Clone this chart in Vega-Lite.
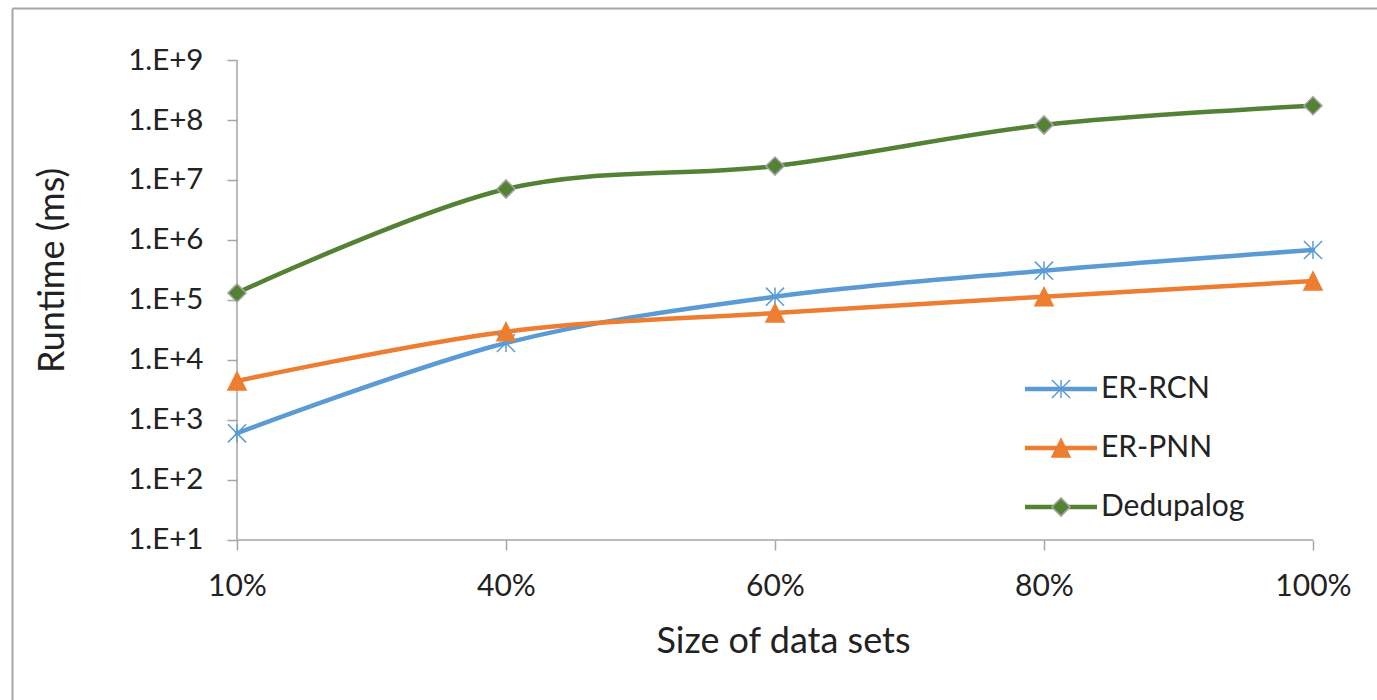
{
  "$schema": "https://vega.github.io/schema/vega-lite/v6.json",
  "width": 1365,
  "height": 692,
  "autosize": {"type": "none"},
  "padding": {"left": 12, "top": 8, "right": 0, "bottom": 0},
  "background": "#ffffff",
  "config": {
    "font": "Lato",
    "view": {"stroke": null},
    "axis": {"grid": false, "labelFont": "Lato", "titleFont": "Lato"},
    "legend": {"labelFont": "Lato"}
  },
  "data": {
    "values": [
      {"pct": "10%", "series": "ER-RCN", "ms": 600},
      {"pct": "40%", "series": "ER-RCN", "ms": 19200},
      {"pct": "60%", "series": "ER-RCN", "ms": 113500},
      {"pct": "80%", "series": "ER-RCN", "ms": 308000},
      {"pct": "100%", "series": "ER-RCN", "ms": 681000},
      {"pct": "10%", "series": "ER-PNN", "ms": 4470},
      {"pct": "40%", "series": "ER-PNN", "ms": 29600},
      {"pct": "60%", "series": "ER-PNN", "ms": 60700},
      {"pct": "80%", "series": "ER-PNN", "ms": 113500},
      {"pct": "100%", "series": "ER-PNN", "ms": 207000},
      {"pct": "10%", "series": "Dedupalog", "ms": 131000},
      {"pct": "40%", "series": "Dedupalog", "ms": 7080000},
      {"pct": "60%", "series": "Dedupalog", "ms": 17100000},
      {"pct": "80%", "series": "Dedupalog", "ms": 82500000},
      {"pct": "100%", "series": "Dedupalog", "ms": 173000000}
    ]
  },
  "layer": [
    {
      "data": {"values": [{}]},
      "mark": {"type": "rule", "color": "#a6a6a6", "strokeWidth": 1.5},
      "encoding": {
        "x": {
          "datum": "10%", "type": "nominal",
          "scale": {"type": "point", "domain": ["10%", "40%", "60%", "80%", "100%"], "padding": 0.5372, "align": 0.7785},
          "axis": {"orient": "top", "offset": 0, "domain": true, "domainColor": "#a6a6a6", "domainWidth": 2, "ticks": false, "labels": false, "title": null, "grid": false}
        },
        "x2": {"datum": "100%"},
        "y": {
          "datum": 10, "type": "quantitative",
          "scale": {"type": "log", "domain": [0.0215443, 7356422544], "nice": false},
          "axis": {"orient": "left", "offset": 0, "domain": true, "domainColor": "#a6a6a6", "domainWidth": 2, "ticks": false, "labels": false, "title": null, "grid": false}
        }
      }
    },
    {
      "data": {"values": [{}]},
      "mark": {"type": "rule", "color": "#a6a6a6", "strokeWidth": 1.5},
      "encoding": {
        "x": {
          "datum": "10%", "type": "nominal",
          "scale": {"type": "point", "domain": ["10%", "40%", "60%", "80%", "100%"], "padding": 0.5372, "align": 0.7785},
          "axis": null
        },
        "y": {
          "datum": 10, "type": "quantitative",
          "scale": {"type": "log", "domain": [0.0215443, 7356422544], "nice": false},
          "axis": null
        },
        "y2": {"datum": 1000000000}
      }
    },
    {
      "mark": {"type": "line", "interpolate": "cardinal", "tension": 0, "strokeWidth": 4.5, "strokeCap": "round"},
      "encoding": {
        "x": {
          "field": "pct", "type": "nominal",
          "scale": {"type": "point", "domain": ["10%", "40%", "60%", "80%", "100%"], "padding": 0.5372, "align": 0.7785},
          "axis": {
            "orient": "bottom", "offset": -160, "domain": false, "grid": false,
            "ticks": true, "tickSize": 10, "tickColor": "#a6a6a6", "tickWidth": 1.5,
            "labelFontSize": 30, "labelColor": "#222222", "labelPadding": 21, "labelAngle": 0, "labelFont": "Lato",
            "title": "Size of data sets", "titleFontSize": 36, "titleFontWeight": "normal", "titleColor": "#222222", "titleFont": "Lato",
            "titleX": 771, "titleY": 112, "titleAlign": "center", "titleBaseline": "alphabetic", "titleAngle": 0
          }
        },
        "y": {
          "field": "ms", "type": "quantitative",
          "scale": {"type": "log", "domain": [0.0215443, 7356422544], "nice": false},
          "axis": {
            "orient": "left", "offset": -225, "domain": false, "grid": false,
            "values": [10, 100, 1000, 10000, 100000, 1000000, 10000000, 100000000, 1000000000],
            "ticks": true, "tickSize": 10, "tickColor": "#a6a6a6", "tickWidth": 1.5,
            "labelFontSize": 29.5, "labelColor": "#222222", "labelPadding": 24, "labelFont": "Lato",
            "labelExpr": "'1.E+' + round(log(datum.value) / LN10)",
            "labelOverlap": false, "labelFlush": false,
            "title": "Runtime (ms)", "titleFontSize": 36, "titleFontWeight": "normal", "titleColor": "#222222", "titleFont": "Lato",
            "titleX": -174, "titleY": 262, "titleAngle": -90, "titleAlign": "center", "titleBaseline": "alphabetic"
          }
        },
        "color": {
          "field": "series", "type": "nominal",
          "scale": {"domain": ["ER-RCN", "ER-PNN", "Dedupalog"], "range": ["#5B9BD5", "#ED7D31", "#548235"]},
          "legend": {
            "orient": "none", "legendX": 1034, "legendY": 366, "title": null,
            "symbolType": "M-3.6,0H3.6", "symbolSize": 400, "symbolStrokeWidth": 4.5,
            "labelFontSize": 30, "labelColor": "#222222", "labelOffset": 25, "rowPadding": 29, "padding": 0
          }
        },
        "order": {"value": null}
      }
    },
    {
      "mark": {"type": "point", "filled": true, "size": 330, "strokeWidth": 1.5, "opacity": 1},
      "encoding": {
        "x": {
          "field": "pct", "type": "nominal",
          "scale": {"type": "point", "domain": ["10%", "40%", "60%", "80%", "100%"], "padding": 0.5372, "align": 0.7785},
          "axis": null
        },
        "y": {
          "field": "ms", "type": "quantitative",
          "scale": {"type": "log", "domain": [0.0215443, 7356422544], "nice": false},
          "axis": null
        },
        "shape": {
          "field": "series", "type": "nominal", "sort": "descending",
          "scale": {"range": ["M-1,-1L1,1M-1,1L1,-1M0,-1L0,1", "M0,-1L1,1L-1,1Z", "diamond"]},
          "legend": {
            "orient": "none", "legendX": 1034, "legendY": 366, "title": null,
            "symbolSize": 330, "symbolStrokeWidth": 1.5, "symbolOpacity": 1,
            "labelFontSize": 30, "labelOpacity": 0, "labelOffset": 25, "rowPadding": 29, "padding": 0
          }
        },
        "fill": {
          "field": "series", "type": "nominal", "sort": "descending",
          "scale": {"range": ["#5B9BD5", "#ED7D31", "#548235"]},
          "legend": {
            "orient": "none", "legendX": 1034, "legendY": 366, "title": null,
            "symbolSize": 330, "symbolStrokeWidth": 1.5, "symbolOpacity": 1,
            "labelFontSize": 30, "labelOpacity": 0, "labelOffset": 25, "rowPadding": 29, "padding": 0
          }
        },
        "stroke": {
          "field": "series", "type": "nominal", "sort": "descending",
          "scale": {"range": ["#5B9BD5", "#ED7D31", "#A5A5A5"]},
          "legend": {
            "orient": "none", "legendX": 1034, "legendY": 366, "title": null,
            "symbolSize": 330, "symbolStrokeWidth": 1.5, "symbolOpacity": 1,
            "labelFontSize": 30, "labelOpacity": 0, "labelOffset": 25, "rowPadding": 29, "padding": 0
          }
        }
      }
    }
  ],
  "resolve": {"axis": {"x": "independent", "y": "independent"}}
}
